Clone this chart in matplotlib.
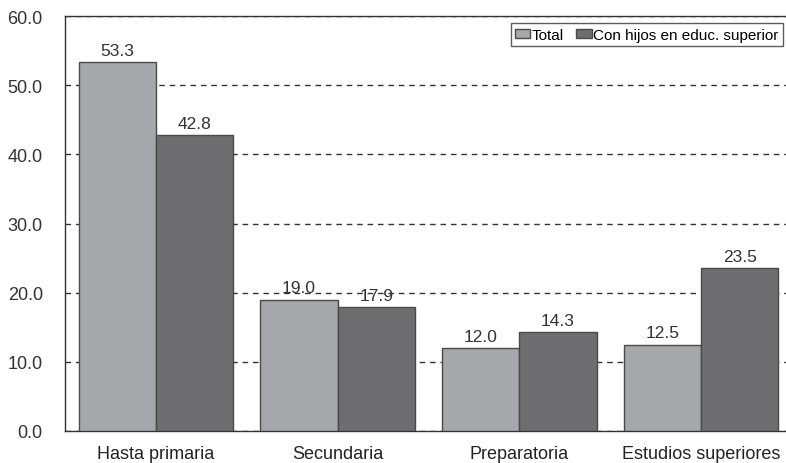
import matplotlib.pyplot as plt
import numpy as np

plt.rcParams['font.family'] = ['Liberation Sans Narrow', 'Liberation Sans', 'DejaVu Sans']

categories = ['Hasta primaria', 'Secundaria', 'Preparatoria', 'Estudios superiores']
total = [53.3, 19.0, 12.0, 12.5]
con_hijos = [42.8, 17.9, 14.3, 23.5]
series_names = ['Total', 'Con hijos en educ. superior']

fig = plt.figure(figsize=(7.86, 4.64), dpi=100)
ax = fig.add_axes([65 / 786, 32 / 464, 727 / 786, 415 / 464])

x = np.arange(len(categories))
w = 0.425
b1 = ax.bar(x - w / 2, total, w, color='#a6a7ab', edgecolor='#4a4a4a', linewidth=1.0,
            label=series_names[0], zorder=3)
b2 = ax.bar(x + w / 2, con_hijos, w, color='#6e6e71', edgecolor='#4a4a4a', linewidth=1.0,
            label=series_names[1], zorder=3)

for bars, vals in ((b1, total), (b2, con_hijos)):
    for r, v in zip(bars, vals):
        ax.annotate('%.1f' % v, (r.get_x() + r.get_width() / 2, v), xytext=(0, 3),
                    textcoords='offset points', ha='center', va='bottom',
                    fontsize=12.5, color='#333333', zorder=4)

ax.set_xlim(-0.5, 3.5)
ax.set_ylim(0, 60)
ax.set_yticks(np.arange(0, 61, 10))
ax.set_yticklabels(['%.1f' % t for t in np.arange(0, 61, 10)], fontsize=13, color='#333333')
ax.set_xticks(x)
ax.set_xticklabels(categories, fontsize=13, color='#222222')
ax.tick_params(axis='both', length=0)
ax.tick_params(axis='y', pad=16)
ax.tick_params(axis='x', pad=10)

ax.yaxis.grid(True, linestyle=(0, (4, 3.5)), color='#333333', linewidth=1.0, zorder=0)
ax.set_axisbelow(True)
for s in ('left', 'bottom', 'top'):
    ax.spines[s].set_color('#333333')
    ax.spines[s].set_linewidth(1.0)
ax.spines['right'].set_visible(False)

leg = fig.legend(loc='upper right', bbox_to_anchor=(783 / 786, 440 / 464), ncol=2,
                 fontsize=11, frameon=True, fancybox=False, edgecolor='#333333',
                 handlelength=1.0, handleheight=0.55, handletextpad=0.1,
                 columnspacing=0.8, borderpad=0.3, borderaxespad=0)
leg.get_frame().set_linewidth(1.0)

fig.savefig('out.png', dpi=100)
